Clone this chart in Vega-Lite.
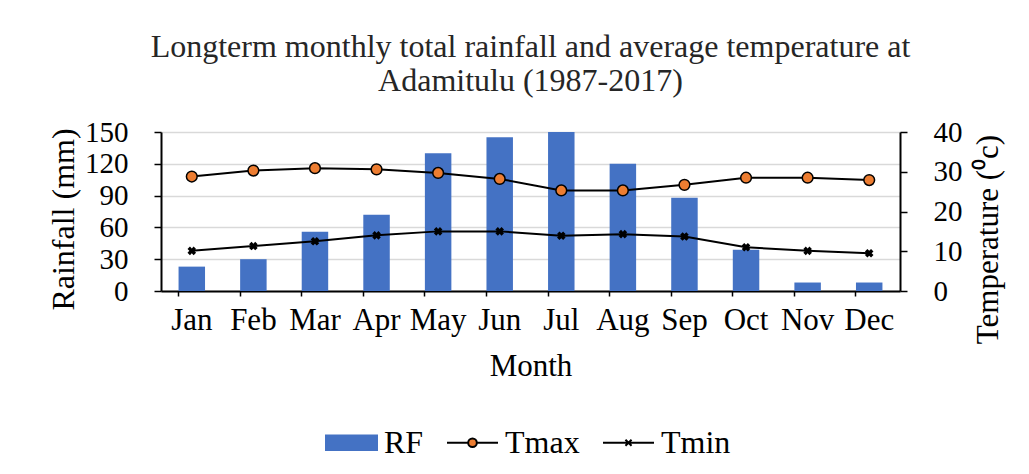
{
  "$schema": "https://vega.github.io/schema/vega-lite/v6.json",
  "autosize": {"type": "none"},
  "width": 739,
  "height": 159,
  "padding": {"left": 161, "top": 132, "right": 129, "bottom": 183},
  "background": "white",
  "title": {
    "text": ["Longterm monthly total rainfall  and average temperature at", "Adamitulu (1987-2017)"],
    "font": "Liberation Serif",
    "fontSize": 32,
    "fontWeight": "normal",
    "color": "#262626",
    "lineHeight": 34,
    "anchor": "middle",
    "frame": "group",
    "offset": 20
  },
  "config": {
    "view": {"stroke": null},
    "axis": {
      "labelFont": "Liberation Serif",
      "titleFont": "Liberation Serif",
      "labelColor": "#000000",
      "titleColor": "#000000",
      "titleFontWeight": "normal",
      "domainColor": "#000000",
      "domainWidth": 2,
      "tickColor": "#000000",
      "tickWidth": 1.5
    }
  },
  "data": {
    "values": [
      {"month": "Jan", "series": "RF", "value": 23},
      {"month": "Feb", "series": "RF", "value": 30},
      {"month": "Mar", "series": "RF", "value": 56},
      {"month": "Apr", "series": "RF", "value": 72},
      {"month": "May", "series": "RF", "value": 130},
      {"month": "Jun", "series": "RF", "value": 145},
      {"month": "Jul", "series": "RF", "value": 150},
      {"month": "Aug", "series": "RF", "value": 120},
      {"month": "Sep", "series": "RF", "value": 88},
      {"month": "Oct", "series": "RF", "value": 39},
      {"month": "Nov", "series": "RF", "value": 8},
      {"month": "Dec", "series": "RF", "value": 8},
      {"month": "Jan", "series": "Tmax", "value": 28.8},
      {"month": "Feb", "series": "Tmax", "value": 30.3},
      {"month": "Mar", "series": "Tmax", "value": 30.9},
      {"month": "Apr", "series": "Tmax", "value": 30.6},
      {"month": "May", "series": "Tmax", "value": 29.7},
      {"month": "Jun", "series": "Tmax", "value": 28.2},
      {"month": "Jul", "series": "Tmax", "value": 25.3},
      {"month": "Aug", "series": "Tmax", "value": 25.3},
      {"month": "Sep", "series": "Tmax", "value": 26.7},
      {"month": "Oct", "series": "Tmax", "value": 28.5},
      {"month": "Nov", "series": "Tmax", "value": 28.5},
      {"month": "Dec", "series": "Tmax", "value": 27.9},
      {"month": "Jan", "series": "Tmin", "value": 10.1},
      {"month": "Feb", "series": "Tmin", "value": 11.3},
      {"month": "Mar", "series": "Tmin", "value": 12.5},
      {"month": "Apr", "series": "Tmin", "value": 14.0},
      {"month": "May", "series": "Tmin", "value": 15.0},
      {"month": "Jun", "series": "Tmin", "value": 15.0},
      {"month": "Jul", "series": "Tmin", "value": 13.9},
      {"month": "Aug", "series": "Tmin", "value": 14.3},
      {"month": "Sep", "series": "Tmin", "value": 13.7},
      {"month": "Oct", "series": "Tmin", "value": 11.0},
      {"month": "Nov", "series": "Tmin", "value": 10.1},
      {"month": "Dec", "series": "Tmin", "value": 9.5}
    ]
  },
  "encoding": {
    "x": {
      "field": "month",
      "type": "ordinal",
      "sort": ["Jan","Feb","Mar","Apr","May","Jun","Jul","Aug","Sep","Oct","Nov","Dec"],
      "scale": {"paddingInner": 0.57, "paddingOuter": 0.285},
      "axis": {
        "title": "Month",
        "titleFontSize": 31,
        "titlePadding": 16,
        "labelFontSize": 31,
        "labelAngle": 0,
        "labelPadding": 9,
        "tickSize": 5,
        "bandPosition": 0
      }
    }
  },
  "layer": [
    {
      "transform": [{"filter": "datum.series === 'RF'"}],
      "mark": {"type": "bar", "color": "#4472C4"},
      "encoding": {
        "y": {
          "field": "value",
          "type": "quantitative",
          "scale": {"domain": [0, 150], "nice": false},
          "axis": {
            "title": "Rainfall (mm)",
            "orient": "left",
            "values": [0, 30, 60, 90, 120, 150],
            "grid": true,
            "gridColor": "#D9D9D9",
            "gridWidth": 1.5,
            "labelFontSize": 29,
            "labelPadding": 26,
            "tickSize": 7,
            "titleFontSize": 32,
            "titleAngle": 270,
            "titleAlign": "center",
            "titleBaseline": "middle",
            "titleX": -98,
            "titleY": 87
          }
        }
      }
    },
    {
      "transform": [{"filter": "datum.series !== 'RF'"}],
      "encoding": {
        "y": {
          "field": "value",
          "type": "quantitative",
          "scale": {"domain": [0, 40], "nice": false},
          "axis": {
            "title": "Temperature (⁰c)",
            "orient": "right",
            "values": [0, 10, 20, 30, 40],
            "grid": false,
            "labelFontSize": 29,
            "labelPadding": 26,
            "tickSize": 7,
            "titleFontSize": 31,
            "titleAngle": 270,
            "titleAlign": "center",
            "titleBaseline": "middle",
            "titleX": 88,
            "titleY": 107
          }
        }
      },
      "layer": [
        {
          "mark": {"type": "line", "color": "#000000", "strokeWidth": 2},
          "encoding": {"detail": {"field": "series"}}
        },
        {
          "transform": [{"filter": "datum.series === 'Tmax'"}],
          "mark": {"type": "point", "shape": "circle", "filled": true, "fill": "#ED7D31", "stroke": "#000000", "strokeWidth": 1.5, "size": 115, "opacity": 1}
        },
        {
          "transform": [{"filter": "datum.series === 'Tmin'"}],
          "mark": {"type": "point", "shape": "cross", "angle": 45, "filled": true, "color": "#000000", "size": 75, "opacity": 1}
        },
        {
          "mark": {"type": "point", "filled": true, "opacity": 0, "strokeWidth": 2},
          "encoding": {
            "shape": {
              "field": "series",
              "type": "nominal",
              "scale": {
                "domain": ["RF", "Tmax", "Tmin"],
                "range": [
                  "M-1,-0.28H1V0.28H-1Z",
                  "M-1,0H-0.17M0.17,0H1M-0.17,0A0.17,0.17 0 1,0 0.17,0A0.17,0.17 0 1,0 -0.17,0Z",
                  "M-1,0H1M-0.12,-0.12L0.12,0.12M-0.12,0.12L0.12,-0.12"
                ]
              },
              "legend": {"title": null, "orient": "none", "legendX": 164, "legendY": 284, "direction": "horizontal", "symbolSize": 2600, "symbolOpacity": 1, "symbolStrokeWidth": 2, "labelFont": "Liberation Serif", "labelFontSize": 32, "labelColor": "#000000", "labelOffset": 6, "columnPadding": 19, "padding": 0}
            },
            "fill": {
              "field": "series",
              "type": "nominal",
              "scale": {"domain": ["RF", "Tmax", "Tmin"], "range": ["#4472C4", "#ED7D31", "#000000"]},
              "legend": {"title": null, "orient": "none", "legendX": 164, "legendY": 284, "direction": "horizontal", "symbolSize": 2600, "symbolOpacity": 1, "symbolStrokeWidth": 2, "labelFont": "Liberation Serif", "labelFontSize": 32, "labelColor": "#000000", "labelOffset": 6, "columnPadding": 19, "padding": 0}
            },
            "stroke": {
              "field": "series",
              "type": "nominal",
              "scale": {"domain": ["RF", "Tmax", "Tmin"], "range": ["#4472C4", "#000000", "#000000"]},
              "legend": {"title": null, "orient": "none", "legendX": 164, "legendY": 284, "direction": "horizontal", "symbolSize": 2600, "symbolOpacity": 1, "symbolStrokeWidth": 2, "labelFont": "Liberation Serif", "labelFontSize": 32, "labelColor": "#000000", "labelOffset": 6, "columnPadding": 19, "padding": 0}
            }
          }
        }
      ]
    }
  ],
  "resolve": {"scale": {"y": "independent"}}
}
